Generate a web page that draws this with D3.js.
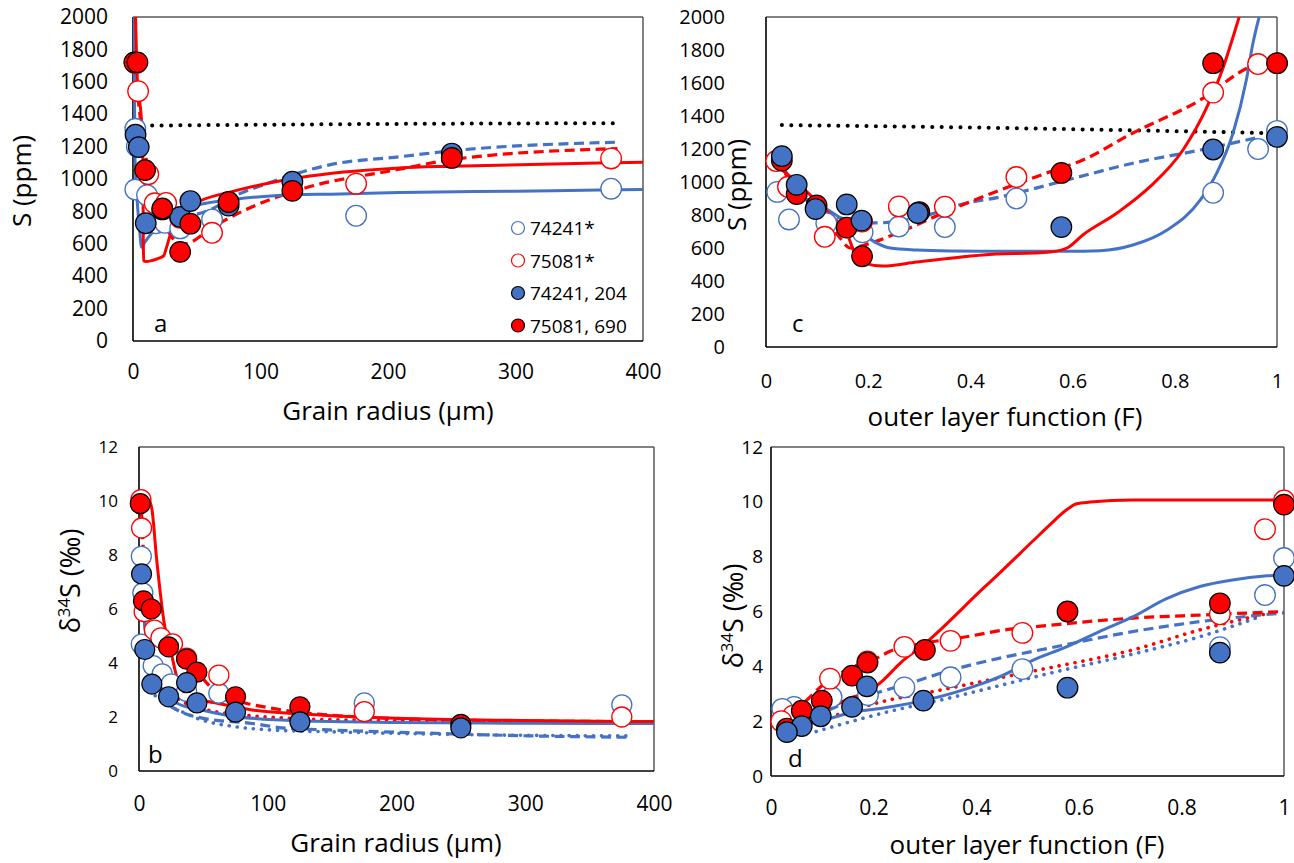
<!DOCTYPE html>
<html><head><meta charset="utf-8">
<script src="https://cdnjs.cloudflare.com/ajax/libs/d3/7.8.5/d3.min.js"></script>
<style>
body{margin:0;background:#fff;}
svg{display:block;font-family:"Open Sans",Lato,sans-serif;}
</style></head><body>
<svg id="chart" width="1294" height="863"></svg>
<script>
// ---- measured samples: grain radius (µm), outer layer fraction F, S (ppm), δ34S (‰)
const r_74241_204 = [2, 4.5, 10, 23, 37, 45, 75, 125, 250];
const F_74241_204 = [1.0, 0.875, 0.578, 0.297, 0.187, 0.158, 0.097, 0.06, 0.031];
const S_74241_204 = [1273, 1197, 727, 812, 766, 864, 836, 983, 1157];
const d_74241_204 = [7.3, 4.5, 3.22, 2.75, 3.27, 2.52, 2.18, 1.82, 1.6];

const r_75081_690 = [1, 3.5, 9.5, 23, 37, 45, 75, 125, 250];
const F_75081_690 = [1.0, 0.875, 0.578, 0.30, 0.188, 0.158, 0.099, 0.06, 0.031];
const S_75081_690 = [1720, 1720, 1055, 818, 550, 724, 858, 927, 1130];
const d_75081_690 = [9.9, 6.3, 6.0, 4.6, 4.14, 3.66, 2.75, 2.38, 1.73];

const r_74241s = [1.8, 3, 1.8, 11, 18, 25, 37, 62, 175, 375];
const F_74241s = [1.0, 0.963, 0.875, 0.49, 0.35, 0.26, 0.189, 0.118, 0.045, 0.022];
const S_74241s = [1310, 1200, 935, 900, 727, 730, 695, 750, 773, 940];
const d_74241s = [7.95, 6.6, 4.7, 3.9, 3.6, 3.23, 2.95, 2.88, 2.52, 2.45];

const r_75081s = [1.5, 2, 4, 12, 17, 26, 37, 62, 175, 375];
const F_75081s = [1.0, 0.963, 0.875, 0.49, 0.35, 0.26, 0.188, 0.115, 0.043, 0.02];
const S_75081s = [1720, 1715, 1542, 1030, 850, 852, 760, 668, 971, 1127];
const d_75081s = [10.05, 9.0, 5.9, 5.22, 4.93, 4.71, 4.18, 3.55, 2.2, 2.0];

// ---- model curves
// a: S vs radius
const aBlueSolid = [[0.8,2000],[1.2,1500],[1.6,1120],[3,900],[5,700],[6.8,578],[9,605],[12,640],[16,675],[25,750],[35,805],[52,843],[79,874],[131,904],[155,906],[209,916],[300,925],[378,933],[400,935]];
const aRedSolid = [[2,2000],[3.5,1600],[6.3,1400],[7.6,1225],[7.9,900],[8.1,600],[8.4,495],[10,490],[15,497],[20,510],[24,525],[26,570],[29,650],[33,740],[40,810],[52,863],[79,925],[131,1009],[209,1068],[250,1079],[378,1101],[400,1104]];
const aBlueDashed = [[1,1280],[3,1270],[4.5,1190],[10,1010],[12,910],[15,870],[23,785],[32,752],[43,770],[62,815],[76,880],[107,977],[155,1089],[209,1137],[246,1171],[379,1227]];
const aRedDashed = [[2,1700],[4,1500],[7,1300],[10,1140],[12,1000],[17,830],[26,700],[33,620],[40,600],[45,609],[60,689],[84,794],[131,935],[209,1060],[250,1120],[380,1188]];
const aDotted = [[15,1330],[100,1335],[200,1340],[300,1343],[382,1345]];
// c: S vs F
const cBlueSolid = [[0.02,935],[0.04,930],[0.06,910],[0.086,890],[0.131,812],[0.184,697],[0.217,630],[0.243,600],[0.295,588],[0.36,582],[0.458,580],[0.589,580],[0.654,584],[0.718,618],[0.785,709],[0.85,891],[0.882,1054],[0.914,1297],[0.94,1618],[0.953,1842],[0.965,2000]];
const cRedSolid = [[0.02,1100],[0.06,1000],[0.1,880],[0.13,790],[0.158,690],[0.175,560],[0.19,510],[0.229,491],[0.295,515],[0.425,558],[0.556,576],[0.589,600],[0.62,679],[0.687,812],[0.751,970],[0.816,1194],[0.863,1455],[0.895,1697],[0.914,1879],[0.926,2000]];
const cBlueDashed = [[0.03,1100],[0.066,951],[0.119,812],[0.164,770],[0.217,752],[0.295,782],[0.393,873],[0.458,909],[0.49,933],[0.589,1012],[0.718,1114],[0.85,1194],[0.967,1273]];
const cRedDashed = [[0.02,1130],[0.06,960],[0.1,820],[0.14,680],[0.165,600],[0.2,625],[0.262,697],[0.36,830],[0.458,951],[0.556,1062],[0.62,1133],[0.718,1297],[0.85,1497],[0.947,1697],[0.963,1715]];
const cDotted = [[0.031,1345],[0.3,1335],[0.6,1320],[0.98,1297]];
// b: δ34S vs radius
const bRedSolid = [[1,10.0],[8,10.0],[10,9.7],[13.8,7.8],[20,5.35],[25,4.37],[30,3.37],[36,2.88],[48.8,2.63],[61.6,2.5],[87.7,2.26],[126.6,2.11],[200,1.95],[300,1.87],[400,1.83]];
const bRedDashed = [[1,10.1],[2,9.5],[4,7.5],[8,5.8],[12,5.2],[17,4.95],[26,4.6],[37,4.15],[50,3.4],[63,2.8],[84,2.5],[100,2.35],[148,2.07],[252,1.88],[382,1.83]];
const bRedDotted = [[20,3.4],[30,2.7],[50,2.3],[75,2.1],[100,2.0],[150,1.9],[250,1.85],[382,1.82]];
const bBlueSolid = [[1,7.9],[3,6.5],[6,4.6],[10,3.6],[20,2.85],[30,2.5],[48.8,2.26],[74,2.02],[125,1.86],[200,1.8],[300,1.77],[400,1.76]];
const bBlueDashed = [[1,7.9],[3,6.4],[6,4.5],[10,3.5],[20,2.6],[30,2.25],[50,1.95],[88,1.76],[111,1.6],[148,1.52],[226,1.4],[304,1.3],[380,1.25]];
const bBlueDotted = [[8,3.0],[20,2.5],[33,2.2],[48.8,1.89],[74.7,1.64],[103,1.52],[150,1.45],[250,1.35],[380,1.3]];
// d: δ34S vs F
const dRedSolid = [[0.02,1.8],[0.06,2.0],[0.089,2.3],[0.128,2.6],[0.154,2.85],[0.187,3.05],[0.219,3.5],[0.252,4.12],[0.297,4.78],[0.414,6.85],[0.446,7.41],[0.511,8.58],[0.544,9.17],[0.577,9.72],[0.596,9.93],[0.622,9.99],[0.706,10.07],[1.0,10.07]];
const dRedDashed = [[0.02,2.0],[0.06,2.6],[0.1,3.3],[0.15,3.9],[0.206,4.3],[0.232,4.55],[0.297,4.84],[0.381,5.08],[0.446,5.3],[0.544,5.5],[0.706,5.76],[0.836,5.87],[1.0,6.0]];
const dRedDotted = [[0.1,2.05],[0.219,2.72],[0.316,3.08],[0.446,3.58],[0.544,3.95],[0.706,4.6],[0.836,5.33],[0.986,6.0]];
const dBlueSolid = [[0.03,1.55],[0.056,1.8],[0.1,2.02],[0.154,2.3],[0.219,2.48],[0.297,2.75],[0.414,3.39],[0.446,3.62],[0.511,4.23],[0.577,4.72],[0.64,5.27],[0.706,5.81],[0.77,6.46],[0.836,6.91],[0.9,7.15],[0.967,7.3],[1.0,7.34]];
const dBlueDashed = [[0.03,1.7],[0.1,2.3],[0.15,2.7],[0.206,3.03],[0.271,3.39],[0.349,3.85],[0.446,4.3],[0.544,4.67],[0.706,5.27],[0.836,5.63],[1.0,5.95]];
const dBlueDotted = [[0.088,1.62],[0.219,2.3],[0.349,2.85],[0.446,3.3],[0.544,3.75],[0.706,4.45],[0.836,5.08],[0.953,5.81]];

// ---- tick values
const sTicks = d3.range(0, 2001, 200);
const dTicks = [0, 2, 4, 6, 8, 10, 12];
const radiusTicks = [0, 100, 200, 300, 400];
const fTicks = [0, 0.2, 0.4, 0.6, 0.8, 1];

const legendLabels = ["74241*", "75081*", "74241, 204", "75081, 690"];

const BLUE = "#4472C4", RED = "#FF0000";
const svg = d3.select("#chart");
const defs = svg.append("defs");

const styles = {
  solid:  {w: 3, dash: null},
  dashed: {w: 3.2, dash: "10,5.5"},
  dotted: {w: 3.6, dash: "0.1,8", cap: "round"},
  black:  {w: 4, dash: "0.1,9.3", cap: "round"}
};

function drawPanel(p) {
  const x = d3.scaleLinear().domain(p.xd).range([p.x0, p.x1]);
  const y = d3.scaleLinear().domain(p.yd).range([p.y1, p.y0]);
  const g = svg.append("g");
  const clipId = "clip-" + p.id;
  defs.append("clipPath").attr("id", clipId).append("rect")
    .attr("x", p.x0).attr("y", p.y0).attr("width", p.x1 - p.x0).attr("height", p.y1 - p.y0);

  // frame: dark left/bottom axis lines, grey top/right borders
  g.append("line").attr("x1", p.x0).attr("x2", p.x1).attr("y1", p.y0).attr("y2", p.y0).attr("stroke", "#595959").attr("stroke-width", 1.3);
  g.append("line").attr("x1", p.x1).attr("x2", p.x1).attr("y1", p.y0).attr("y2", p.y1).attr("stroke", "#404040").attr("stroke-width", 1.3);
  g.append("line").attr("x1", p.x0).attr("x2", p.x1).attr("y1", p.y1).attr("y2", p.y1).attr("stroke", "#000").attr("stroke-width", 1.6);
  g.append("line").attr("x1", p.x0).attr("x2", p.x0).attr("y1", p.y0).attr("y2", p.y1).attr("stroke", "#000").attr("stroke-width", 1.6);

  // axes (labels only)
  const ya = g.append("g").attr("transform", `translate(${p.x0},0)`)
    .call(d3.axisLeft(y).tickValues(p.yt).tickSize(0).tickPadding(p.ypad).tickFormat(d3.format("d")));
  ya.select(".domain").remove();
  ya.selectAll("text").attr("font-size", p.yfs).attr("fill", "#000").attr("font-family", "Open Sans");
  const xa = g.append("g").attr("transform", `translate(0,${p.y1})`)
    .call(d3.axisBottom(x).tickValues(p.xt).tickSize(0).tickPadding(p.xpad).tickFormat(p.xfmt));
  xa.select(".domain").remove();
  xa.selectAll("text").attr("font-size", p.xfs).attr("fill", "#000").attr("font-family", "Open Sans");

  // model curves
  const line = d3.line().x(d => x(d[0])).y(d => y(d[1])).curve(d3.curveMonotoneX);
  const lg = g.append("g").attr("clip-path", `url(#${clipId})`);
  p.curves.forEach(c => {
    const st = styles[c.style];
    lg.append("path").attr("d", line(c.data)).attr("fill", "none")
      .attr("stroke", c.color).attr("stroke-width", st.w)
      .attr("stroke-dasharray", st.dash).attr("stroke-linecap", st.cap || "butt")
      .attr("stroke-linejoin", "round");
  });

  // sample markers
  p.points.forEach(s => {
    g.append("g").selectAll("circle").data(d3.zip(s.xs, s.ys)).join("circle")
      .attr("cx", d => x(d[0])).attr("cy", d => y(d[1])).attr("r", p.mr)
      .attr("fill", s.filled ? s.color : "#fff")
      .attr("stroke", s.filled ? "#000" : s.color)
      .attr("stroke-width", s.filled ? 1.2 : 1.3);
  });

  // panel letter
  g.append("text").attr("x", p.lx).attr("y", p.ly).attr("font-size", 24).text(p.id);

  // axis titles
  g.append("text").attr("x", p.xtx).attr("y", p.xty).attr("text-anchor", "middle")
    .attr("font-size", 26).text(p.xtitle);
  const yt = g.append("text").attr("transform", `translate(${p.ytx},${p.yty}) rotate(-90)`)
    .attr("text-anchor", "middle").attr("font-size", p.ytfs);
  if (p.delta) {
    yt.append("tspan").text("δ");
    yt.append("tspan").attr("font-size", p.ytfs * 0.62).attr("dy", -p.ytfs * 0.38).text("34");
    yt.append("tspan").attr("dy", p.ytfs * 0.38).text("S (‰)");
  } else {
    yt.text("S (ppm)");
  }
  return {x, y, g};
}

const fmtF = d => d === 0 ? "0" : d === 1 ? "1" : d3.format(".1f")(d);
const fmtR = d3.format("d");

const openBlue = (xs, ys) => ({xs, ys, color: BLUE, filled: false});
const openRed = (xs, ys) => ({xs, ys, color: RED, filled: false});
const fillBlue = (xs, ys) => ({xs, ys, color: BLUE, filled: true});
const fillRed = (xs, ys) => ({xs, ys, color: RED, filled: true});

// a: S vs grain radius
drawPanel({
  id: "a", x0: 133, x1: 643, y0: 17, y1: 341, xd: [0, 400], yd: [0, 2000],
  yt: sTicks, xt: radiusTicks, xfmt: fmtR, ypad: 25, yfs: 21, xpad: 23, xfs: 21,
  mr: 10.3, lx: 154, ly: 332, xtitle: "Grain radius (µm)", xtx: 388, xty: 420,
  ytx: 31, yty: 181, ytfs: 26, delta: false,
  curves: [
    {data: aDotted, color: "#000", style: "black"},
    {data: aBlueDashed, color: BLUE, style: "dashed"},
    {data: aRedDashed, color: RED, style: "dashed"},
    {data: aBlueSolid, color: BLUE, style: "solid"},
    {data: aRedSolid, color: RED, style: "solid"}
  ],
  points: [openBlue(r_74241s, S_74241s), openRed(r_75081s, S_75081s),
           fillBlue(r_74241_204, S_74241_204), fillRed(r_75081_690, S_75081_690)]
});

// c: S vs outer layer fraction
drawPanel({
  id: "c", x0: 766, x1: 1277, y0: 17, y1: 347, xd: [0, 1], yd: [0, 2000],
  yt: sTicks, xt: fTicks, xfmt: fmtF, ypad: 41, yfs: 20, xpad: 27, xfs: 20,
  mr: 10.3, lx: 792, ly: 332, xtitle: "outer layer function (F)", xtx: 1005, xty: 426,
  ytx: 746, yty: 185, ytfs: 26, delta: false,
  curves: [
    {data: cDotted, color: "#000", style: "black"},
    {data: cBlueDashed, color: BLUE, style: "dashed"},
    {data: cRedDashed, color: RED, style: "dashed"},
    {data: cBlueSolid, color: BLUE, style: "solid"},
    {data: cRedSolid, color: RED, style: "solid"}
  ],
  points: [openBlue(F_74241s, S_74241s), openRed(F_75081s, S_75081s),
           fillRed(F_75081_690, S_75081_690), fillBlue(F_74241_204, S_74241_204)]
});

// b: δ34S vs grain radius
drawPanel({
  id: "b", x0: 139, x1: 654, y0: 447, y1: 771, xd: [0, 400], yd: [0, 12],
  yt: dTicks, xt: radiusTicks, xfmt: fmtR, ypad: 21, yfs: 17, xpad: 25, xfs: 21,
  mr: 10, lx: 148, ly: 763, xtitle: "Grain radius (µm)", xtx: 396, xty: 852,
  ytx: 80, yty: 581, ytfs: 27, delta: true,
  curves: [
    {data: bBlueDotted, color: BLUE, style: "dotted"},
    {data: bBlueDashed, color: BLUE, style: "dashed"},
    {data: bRedDotted, color: RED, style: "dotted"},
    {data: bRedDashed, color: RED, style: "dashed"},
    {data: bBlueSolid, color: BLUE, style: "solid"},
    {data: bRedSolid, color: RED, style: "solid"}
  ],
  points: [openBlue(r_74241s, d_74241s), openRed(r_75081s, d_75081s),
           fillRed(r_75081_690, d_75081_690), fillBlue(r_74241_204, d_74241_204)]
});

// d: δ34S vs outer layer fraction
drawPanel({
  id: "d", x0: 771, x1: 1284, y0: 447, y1: 776, xd: [0, 1], yd: [0, 12],
  yt: dTicks, xt: fTicks, xfmt: fmtF, ypad: 8, yfs: 19, xpad: 24, xfs: 21,
  mr: 10.3, lx: 788, ly: 767, xtitle: "outer layer function (F)", xtx: 1027, xty: 854,
  ytx: 743, yty: 616, ytfs: 27, delta: true,
  curves: [
    {data: dBlueDotted, color: BLUE, style: "dotted"},
    {data: dRedDotted, color: RED, style: "dotted"},
    {data: dBlueDashed, color: BLUE, style: "dashed"},
    {data: dRedDashed, color: RED, style: "dashed"},
    {data: dBlueSolid, color: BLUE, style: "solid"},
    {data: dRedSolid, color: RED, style: "solid"}
  ],
  points: [openBlue(F_74241s, d_74241s), openRed(F_75081s, d_75081s),
           fillRed(F_75081_690, d_75081_690), fillBlue(F_74241_204, d_74241_204)]
});

// legend inside panel a
const legend = svg.append("g");
const legendStyle = [
  {color: BLUE, filled: false}, {color: RED, filled: false},
  {color: BLUE, filled: true}, {color: RED, filled: true}
];
legendLabels.forEach((lab, i) => {
  const yy = 228 + i * 32.5;
  const st = legendStyle[i];
  legend.append("circle").attr("cx", 518).attr("cy", yy).attr("r", 6.5)
    .attr("fill", st.filled ? st.color : "#fff").attr("stroke", st.filled ? "#000" : st.color).attr("stroke-width", 1.2);
  legend.append("text").attr("x", 530).attr("y", yy + 7).attr("font-size", 19).text(lab);
});
</script>
</body></html>
